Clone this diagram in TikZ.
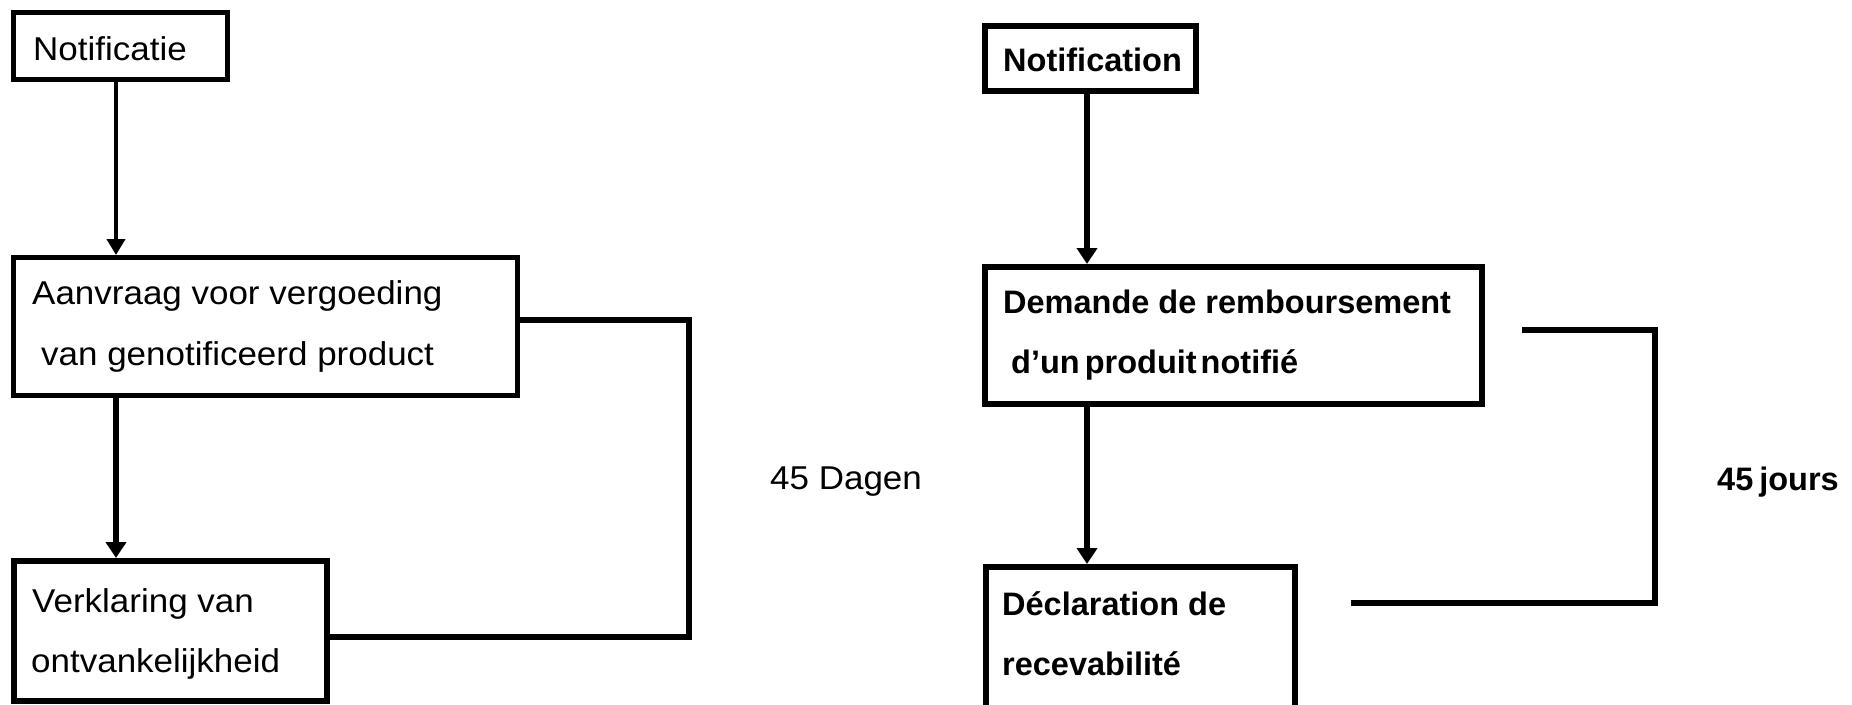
\documentclass[tikz,border=0pt]{standalone}
\usepackage{fontspec}
\setmainfont{Liberation Sans}
\newfontfamily\leftfont[FakeStretch=1.06]{Liberation Sans}
\usetikzlibrary{arrows.meta}
\begin{document}
\begin{tikzpicture}[x=1pt,y=-1pt,
  boxthin/.style={draw, line width=5pt, rectangle, inner sep=0pt},
  boxthick/.style={draw, line width=6pt, rectangle, inner sep=0pt},
  lbl/.style={anchor=base west, inner sep=0pt, font=\leftfont\fontsize{33}{40}\selectfont},
  blbl/.style={anchor=base west, inner sep=0pt, font=\bfseries\fontsize{32.5}{40}\selectfont},
  thinarrow/.style={line width=4pt, -{Triangle[width=18pt,length=16pt]}},
  thickarrow/.style={line width=6.5pt, -{Triangle[width=20pt,length=16pt]}},
  bracket/.style={line width=6pt, line join=miter}]
\useasboundingbox (0,0) rectangle (1852,704);
\fill[white] (0,0) rectangle (1852,704);
\clip (0,0) rectangle (1852,704);

% ---------- left (Dutch) ----------
\node[boxthin, minimum width=214pt, minimum height=67pt] (n1) at (120.5,46) {};
\node[boxthin, minimum width=504pt, minimum height=138pt] (a1) at (265.5,326.5) {};
\node[boxthick, minimum width=313pt, minimum height=140pt] (v1) at (170.5,631) {};

\node[lbl] (t1) at (33,60) {Notificatie};
\node[lbl] (t2) at (32,304) {Aanvraag voor vergoeding};
\node[lbl] (t3) at (41,365) {van genotificeerd product};
\node[lbl] (t4) at (32,612) {Verklaring van};
\node[lbl] (t5) at (31,672) {ontvankelijkheid};
\node[lbl] (t6) at (770,489) {45 Dagen};

\coordinate (axL) at (116,0);
\draw[thinarrow] (n1.south -| axL) -- (a1.north -| axL);
\draw[thickarrow] (a1.south -| axL) -- (v1.north -| axL);

\coordinate (bL1) at (689,320);
\coordinate (bL2) at (689,637);
\draw[bracket] (a1.east |- bL1) -- (bL1) -- (bL2) -- (v1.east |- bL2);

% ---------- right (French) ----------
\node[boxthin, line width=5.5pt, minimum width=211pt, minimum height=65pt] (n2) at (1090.5,58.5) {};
\node[boxthick, minimum width=497pt, minimum height=137pt] (d2) at (1233.5,335.5) {};
\node[boxthick, minimum width=309pt, minimum height=193pt] (r2) at (1140.5,663.5) {};

\node[blbl] (s1) at (1003,71) {Notification};
\node[blbl] (s2) at (1003,313) {Demande de remboursement};
\node[blbl] (s3) at (1011,373) {d’un\hspace{5pt}produit\hspace{4pt}notifié};
\node[blbl] (s4) at (1002,615) {Déclaration de};
\node[blbl] (s5) at (1002,675) {recevabilité};
\node[blbl] (s6) at (1717,490) {45\hspace{6pt}jours};

\coordinate (axR) at (1087,0);
\draw[thickarrow] (n2.south -| axR) -- (d2.north -| axR);
\draw[thickarrow] (d2.south -| axR) -- (r2.north -| axR);

\coordinate (bR0) at (1522,330);
\coordinate (bR1) at (1655,330);
\coordinate (bR2) at (1655,603);
\coordinate (bR3) at (1351,603);
\draw[bracket] (bR0) -- (bR1) -- (bR2) -- (bR3);
\end{tikzpicture}
\end{document}
